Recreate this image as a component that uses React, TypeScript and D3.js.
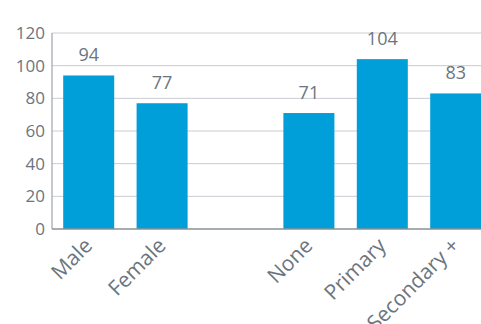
import React from "react";
import * as d3 from "d3";

const categories = ["Male", "Female", "", "None", "Primary", "Secondary +"];
const values: (number | null)[] = [94, 77, null, 71, 104, 83];
const yTicks = [0, 20, 40, 60, 80, 100, 120];

const W = 481, H = 324;
const left = 52, top = 33, bottom = 229;

export default function App() {
  const x = d3.scaleBand<string>().domain(categories.map((c, i) => i + "")).range([left, left + 6 * 73.4]).paddingInner(0.305).paddingOuter(0.1525);
  const y = d3.scaleLinear().domain([0, 120]).range([bottom, top]);
  const font = "'Open Sans', sans-serif";
  const grey = "#6b7580";
  return (
    <svg width={W} height={H} style={{ position: "absolute", left: 0, top: 0 }} fontFamily={font}>
      {yTicks.map((t) => (
        <g key={t}>
          {t > 0 && <line x1={left} x2={W} y1={y(t)} y2={y(t)} stroke="#c8ccd0" strokeWidth={1} />}
          <text x={45} y={y(t)} dy="0.35em" textAnchor="end" fontSize={17} fill={grey}>{t}</text>
        </g>
      ))}
      <line x1={left} x2={left} y1={top} y2={bottom} stroke="#b0b5ba" strokeWidth={1.5} />
      {categories.map((c, i) => {
        const v = values[i];
        if (v == null) return null;
        const bx = x(i + "")!;
        const bw = x.bandwidth();
        const cx = bx + bw / 2;
        return (
          <g key={i}>
            <rect x={bx} y={y(v)} width={bw} height={bottom - y(v)} fill="#009fda" />
            <text x={cx} y={y(v) - 14} textAnchor="middle" fontSize={18} fill={grey}>{v}</text>
            <text transform={`translate(${cx + 5},${247}) rotate(-45)`} textAnchor="end" fontSize={21} fill={grey}>{c}</text>
          </g>
        );
      })}
      <line x1={left} x2={W} y1={bottom} y2={bottom} stroke="#8a9096" strokeWidth={1.5} />
    </svg>
  );
}
